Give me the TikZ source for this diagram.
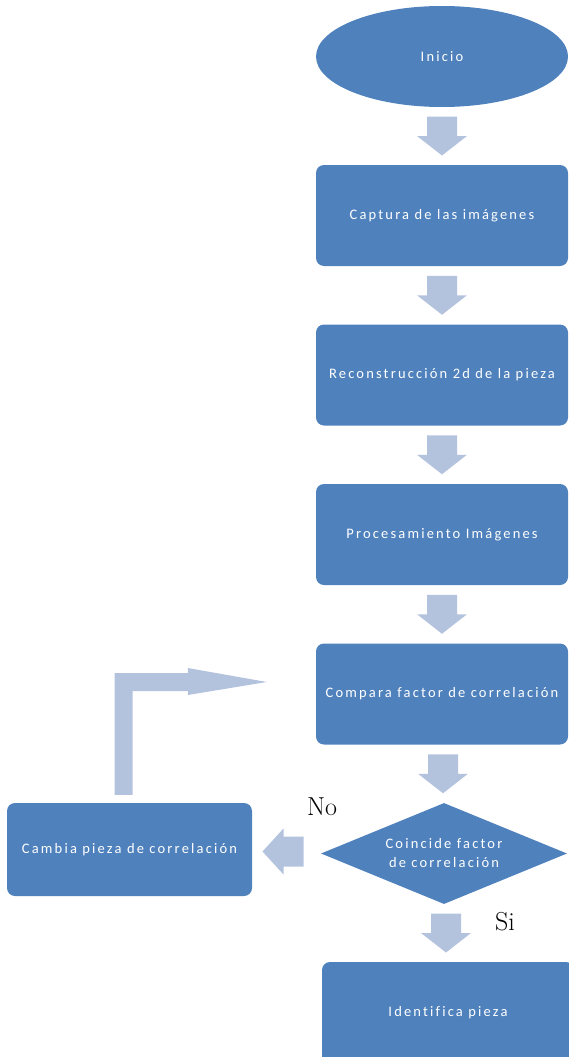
\documentclass[tikz,border=0pt]{standalone}
\usepackage{fontspec}
\newfontfamily\boxfont[LetterSpace=15,Ligatures=NoCommon]{Carlito}
\usetikzlibrary{shapes.geometric,calc}

\definecolor{boxblue}{HTML}{4F81BD}
\definecolor{flowarrow}{HTML}{B3C3DE}

% block arrow pointing down, centred between two nodes
\newcommand\flowstep[2]{%
  \path[flowblk] ($(#1.south)!0.5!(#2.north)+(-15,-19.5)$) -- ++(30,0) -- ++(0,19.5)
    -- ++(10,0) -- ++(-25,19.5) -- ++(-25,-19.5) -- ++(10,0) -- cycle;}

\begin{document}
\begin{tikzpicture}[x=1pt,y=-1pt,
  boxtext/.style={text=white,font=\boxfont\fontsize{14.5}{19}\selectfont,align=center},
  stepbox/.style={boxtext,rectangle,fill=boxblue,rounded corners=8pt,inner sep=0pt,
    minimum width=252pt,minimum height=101pt},
  startnode/.style={boxtext,ellipse,fill=boxblue,inner sep=0pt,
    minimum width=252pt,minimum height=101pt},
  decision/.style={boxtext,diamond,aspect=2.44,fill=boxblue,inner sep=0pt,
    minimum width=246pt,minimum height=101pt},
  flowblk/.style={fill=flowarrow},
  answer/.style={font=\fontsize{26}{28}\selectfont,inner sep=0pt}]

\useasboundingbox (0,0) rectangle (569,1057);

% process chain
\node[startnode] (ini) at (442,56.5) {Inicio};
\node[stepbox] (cap) at (442,215.5) {Captura de las imágenes};
\node[stepbox] (rec) at (442,375) {Reconstrucción 2d de la pieza};
\node[stepbox] (pro) at (442,534.5) {Procesamiento Imágenes};
\node[stepbox] (cmp) at (442,694) {Compara factor de correlación};
\node[decision] (dec) at (444,853.5) {Coincide factor\\de correlación};
\node[stepbox,minimum width=245pt,minimum height=93pt] (cam) at (129.5,849.5) {Cambia pieza de correlación};
\node[stepbox,minimum height=102pt] (idf) at (448,1013) {Identifica pieza};

% branch labels
\node[answer] (no) at (322,807) {No};
\node[answer] (si) at (505,922) {Si};

% downward block arrows
\flowstep{ini}{cap}
\flowstep{cap}{rec}
\flowstep{rec}{pro}
\flowstep{pro}{cmp}
\flowstep{cmp}{dec}
\flowstep{dec}{idf}

% "No" branch: arrow pointing left into the change box
\path[flowblk] ($(dec.west)!0.5!(cam.east)+(17,-15)$) -- ++(0,30) -- ++(-20,0) -- ++(0,8)
  -- ++(-21,-23) -- ++(21,-23) -- ++(0,8) -- cycle;

% return path from the change box back to the comparison step
\coordinate (tailR) at ($(cam.north)+(-6,-8)$);
\coordinate (tipR) at ($(cmp.west)+(-49,-12)$);
\path[flowblk] ($(tailR)+(-9,0)$) -- ($(tailR |- tipR)+(-9,-9)$) -- ($(tipR)+(-79,-9)$)
  -- ($(tipR)+(-79,-14)$) -- (tipR) -- ($(tipR)+(-79,13)$) -- ($(tipR)+(-79,9)$)
  -- ($(tailR |- tipR)+(9,9)$) -- ($(tailR)+(9,0)$) -- cycle;
\end{tikzpicture}
\end{document}
